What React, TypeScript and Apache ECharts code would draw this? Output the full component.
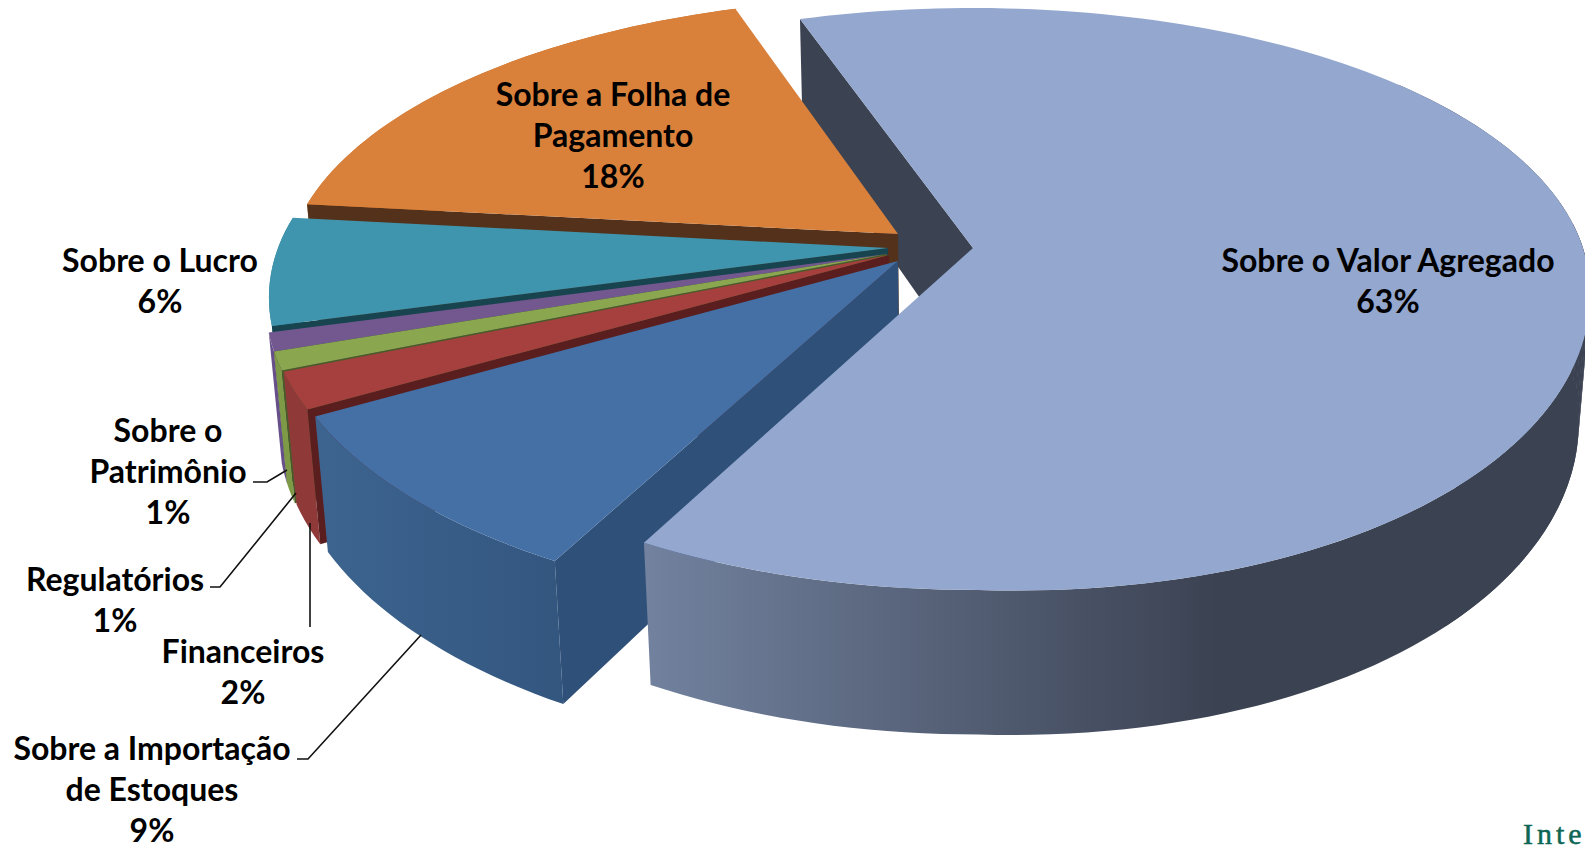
import React, { useEffect, useRef } from "react";
import * as echarts from "echarts";

// Tax burden by base, clockwise from the exploded "Sobre o Valor Agregado" slice.
const sliceNames = [
  "Sobre o Valor Agregado",
  "Sobre a Importação de Estoques",
  "Financeiros",
  "Regulatórios",
  "Sobre o Patrimônio",
  "Sobre o Lucro",
  "Sobre a Folha de Pagamento",
];
const sliceValues = [63, 9, 2, 1, 1, 6, 18];

const labelLines = [
  ["Sobre o Valor Agregado"],
  ["Sobre a Importação", "de Estoques"],
  ["Financeiros"],
  ["Regulatórios"],
  ["Sobre o", "Patrimônio"],
  ["Sobre o Lucro"],
  ["Sobre a Folha de", "Pagamento"],
];

// Label block centres, on the page.
const labelCentres = [
  [1388, 280],
  [152, 788],
  [243, 670.5],
  [115, 598.5],
  [168, 470.5],
  [160, 280],
  [613, 134],
];

// Tip of each slice after its explosion, on the page.
const sliceApexes = [
  [973, 248],
  [898, 261],
  [889, 255],
  [887, 254],
  [887, 254],
  [888, 248],
  [898, 234],
];

const topColors = ["#93a7cf", "#4470a6", "#a5403e", "#8aa64e", "#72588f", "#4095ae", "#d9803b"];
const cutColors = ["#3b4252", "#2f5078", "#5a1e1f", "#4a5b28", "#3e2e52", "#17444f", "#54311a"];
const rimColors = [
  { x0: 643, x1: 1220, from: "#72829f", to: "#3b4252" },
  { x0: 328, x1: 563, from: "#3c648f", to: "#33567f" },
  { x0: 282, x1: 322, from: "#8f3a38", to: "#8f3a38" },
  { x0: 282, x1: 322, from: "#7f9a47", to: "#7f9a47" },
  { x0: 282, x1: 322, from: "#67508a", to: "#67508a" },
  { x0: 282, x1: 322, from: "#37849b", to: "#37849b" },
  { x0: 282, x1: 322, from: "#c4722f", to: "#c4722f" },
];

// Leader lines from each small slice to its label.
const leaderLines = [
  [[253, 482], [267, 482], [287, 470]],
  [[210, 587], [220, 587], [296, 493]],
  [[310, 627], [310, 523]],
  [[297, 759], [308, 759], [421, 635]],
];

// Perspective of the pie: top face at z = 0, underside at z = 1.
const ORIGIN = [973, 248];
const RADIUS = 610;
const TILT = 282;
const DEPTH = 128;
const PERSPECTIVE_X = 0.15;
const PERSPECTIVE_Y = 0.175;
const DEPTH_PERSPECTIVE = 0.018;
const RIGHT_BULGE = 24;
const START_ANGLE = -18.9;
const BIG_RIM_FROM = 50;
const SILHOUETTE_FROM = 85;
const SILHOUETTE_TO = 135;

function project(u: number, v: number, z: number) {
  const wx = 1 - PERSPECTIVE_X * v + DEPTH_PERSPECTIVE * z;
  const wy = 1 - PERSPECTIVE_Y * v + DEPTH_PERSPECTIVE * z;
  const bulge = RIGHT_BULGE * Math.max(u, 0) * Math.max(v, 0);
  return [ORIGIN[0] + (RADIUS * u) / wx, ORIGIN[1] + (TILT * v + DEPTH * z) / wy + bulge];
}

function unprojectTop(x: number, y: number) {
  const dy = y - ORIGIN[1];
  const v = dy / (TILT + PERSPECTIVE_Y * dy);
  const wx = 1 - PERSPECTIVE_X * v;
  return [((x - ORIGIN[0]) * wx) / RADIUS, v];
}

const total = sliceValues.reduce((s, v) => s + v, 0);
const spans = (() => {
  let a = START_ANGLE;
  return sliceValues.map((v) => {
    const from = a;
    a += (v / total) * 360;
    return [from, a];
  });
})();

function rimPoint(i: number, deg: number, z: number) {
  const [u0, v0] = unprojectTop(sliceApexes[i][0], sliceApexes[i][1]);
  const t = (deg * Math.PI) / 180;
  return project(u0 + Math.sin(t), v0 - Math.cos(t), z);
}

function arc(i: number, from: number, to: number, z: number) {
  const n = Math.max(2, Math.ceil((to - from) / 1.5));
  const pts: number[][] = [];
  for (let k = 0; k <= n; k++) pts.push(rimPoint(i, from + ((to - from) * k) / n, z));
  return pts;
}

function apex(i: number, z: number) {
  const [u0, v0] = unprojectTop(sliceApexes[i][0], sliceApexes[i][1]);
  return project(u0, v0, z);
}

const poly = (points: number[][], fill: any) => ({
  type: "polygon",
  shape: { points },
  style: { fill, stroke: "none" },
  silent: true,
});

function cutFace(i: number) {
  const a = spans[i][0];
  return poly([apex(i, 0), rimPoint(i, a, 0), rimPoint(i, a, 1), apex(i, 1)], cutColors[i]);
}

function rimWall(i: number) {
  const [a, b] = spans[i];
  const from = i === 0 ? BIG_RIM_FROM : a;
  const top = arc(i, from, b, 0);
  const bottom = arc(i, from, b, 1).reverse();
  const c = rimColors[i];
  const fill = new echarts.graphic.LinearGradient(
    c.x0, 0, c.x1, 0,
    [{ offset: 0, color: c.from }, { offset: 1, color: c.to }],
    true
  );
  return poly([...top, ...bottom], fill);
}

// Vertical strips that fill out the outline where the big slice's wall turns away on the right.
function silhouetteStrips() {
  const strips: any[] = [];
  for (let d = SILHOUETTE_FROM; d < SILHOUETTE_TO; d += 2) {
    strips.push(
      poly(
        [rimPoint(0, d, 0), rimPoint(0, d + 2, 0), rimPoint(0, d + 2, 1), rimPoint(0, d, 1)],
        rimColors[0].to
      )
    );
  }
  return strips;
}

function topFace(i: number) {
  const [a, b] = spans[i];
  return poly([apex(i, 0), ...arc(i, a, b, 0)], topColors[i]);
}

const LABEL_FONT = 'bold 32px Lato, "Noto Sans", sans-serif';

export default function App() {
  const ref = useRef<HTMLDivElement>(null);

  useEffect(() => {
    if (!ref.current) return;
    const chart = echarts.init(ref.current, undefined, { renderer: "svg" });

    // Painter's order: the big slice's rear cut face, then back to front, then the big slice itself.
    const layers: number[][] = [[0, 0], [6, 1], [5, 1], [4, 1], [3, 1], [2, 1], [1, 1], [0, 1]];

    chart.setOption({
      animation: false,
      backgroundColor: "#ffffff",
      series: [
        {
          type: "custom",
          coordinateSystem: "none",
          silent: true,
          z: 1,
          data: layers.map(([i, part]) => ({ name: sliceNames[i], value: [i, part, sliceValues[i]] })),
          renderItem: (_params: any, api: any) => {
            const i = api.value(0);
            const part = api.value(1);
            if (part === 0) return { type: "group", children: [cutFace(i)] };
            const children =
              i === 0
                ? [...silhouetteStrips(), rimWall(i), topFace(i)]
                : [rimWall(i), cutFace(i), topFace(i)];
            return { type: "group", children };
          },
        },
      ],
      graphic: {
        elements: [
          ...leaderLines.map((points) => ({
            type: "polyline",
            silent: true,
            z: 50,
            shape: { points },
            style: { stroke: "#111111", lineWidth: 1.6, fill: "none" },
          })),
          ...sliceValues.map((v, i) => ({
            type: "text",
            silent: true,
            z: 60,
            style: {
              text: [...labelLines[i], `${v}%`].join("\n"),
              x: labelCentres[i][0],
              y: labelCentres[i][1],
              align: "center",
              verticalAlign: "middle",
              font: LABEL_FONT,
              lineHeight: 41,
              fill: "#000000",
            },
          })),
          {
            type: "text",
            silent: true,
            z: 60,
            style: {
              text: "Inte",
              x: 1523,
              y: 833,
              align: "left",
              verticalAlign: "middle",
              font: '30px "Liberation Serif", serif',
              fill: "#0e6655",
              stroke: "#0e6655",
              lineWidth: 0.5,
            },
          },
        ],
      },
    });

    // The imprint at the page edge is set with wide tracking.
    ref.current.querySelectorAll("text").forEach((t) => {
      if (t.textContent === "Inte") t.style.letterSpacing = "4px";
    });

    return () => chart.dispose();
  }, []);

  return (
    <div
      ref={ref}
      style={{ position: "fixed", left: 0, top: 0, width: 1585, height: 845, background: "#fff" }}
    />
  );
}
